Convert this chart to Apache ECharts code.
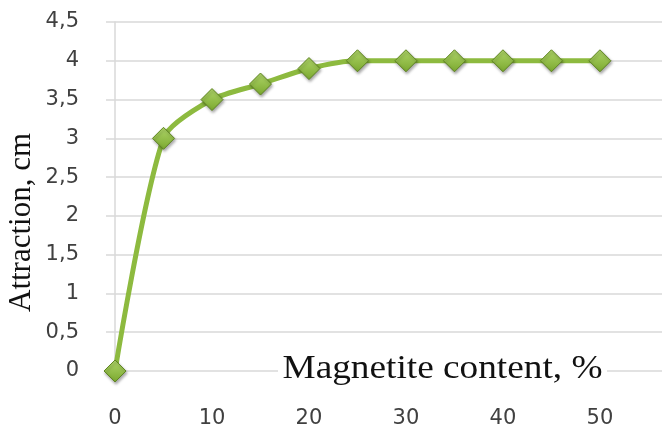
<!DOCTYPE html>
<html>
<head>
<meta charset="utf-8">
<script src="https://cdn.jsdelivr.net/npm/echarts@6/dist/echarts.min.js"></script>
<style>html,body{margin:0;padding:0;background:#fff}#c{width:662px;height:429px}</style>
</head>
<body>
<div id="c"></div>
<script>
const xValues = [0, 5, 10, 15, 20, 25, 30, 35, 40, 45, 50];
const attraction = [0, 3, 3.5, 3.7, 3.9, 4, 4, 4, 4, 4, 4];
const xTickLabels = [0, 10, 20, 30, 40, 50];
const xTitle = 'Magnetite content, %';
const yTitle = 'Attraction, cm';

const chart = echarts.init(document.getElementById('c'));
chart.setOption({
  animation: false,
  backgroundColor: '#fff',
  grid: { left: 106, right: 0, top: 22, bottom: 57 },
  xAxis: {
    type: 'value', min: -0.93, max: 56.4,
    axisLine: { show: false },
    axisTick: { show: false },
    splitLine: { show: false },
    axisLabel: {
      customValues: xTickLabels, margin: 37,
      color: '#404040', fontFamily: 'DejaVu Sans', fontSize: 21
    }
  },
  yAxis: {
    type: 'value', min: 0, max: 4.5, interval: 0.5,
    axisLine: { show: true, onZero: true, lineStyle: { color: '#d9d9d9', width: 1.5 } },
    axisTick: { show: false },
    splitLine: { lineStyle: { color: '#d9d9d9', width: 1.5 } },
    axisLabel: {
      margin: 27, color: '#404040', fontFamily: 'DejaVu Sans', fontSize: 21,
      formatter: v => String(v).replace('.', ',')
    }
  },
  graphic: [
    {
      type: 'text', x: 278, y: 353, scaleX: 1.13, z: 10,
      style: {
        text: xTitle, fill: '#111', font: '33px "Liberation Serif"',
        backgroundColor: '#fff', padding: [0, 4]
      }
    },
    {
      type: 'text', rotation: Math.PI / 2, x: 6, y: 312, z: 10,
      style: {
        text: yTitle, fill: '#111', font: '31px "Liberation Serif"'
      }
    }
  ],
  series: [{
    type: 'line',
    data: xValues.map((x, i) => [x, attraction[i]]),
    smooth: 0.25,
    lineStyle: { color: '#8dba3f', width: 5 },
    symbol: 'diamond',
    symbolSize: 22,
    itemStyle: {
      color: new echarts.graphic.LinearGradient(0, 0, 0, 1, [
        { offset: 0, color: '#b0d66a' },
        { offset: 1, color: '#7aa82e' }
      ]),
      borderColor: '#5f8522', borderWidth: 1,
      shadowColor: 'rgba(0,0,0,0.35)', shadowBlur: 3, shadowOffsetX: 1, shadowOffsetY: 2
    },
    z: 5
  }]
});
</script>
</body>
</html>
